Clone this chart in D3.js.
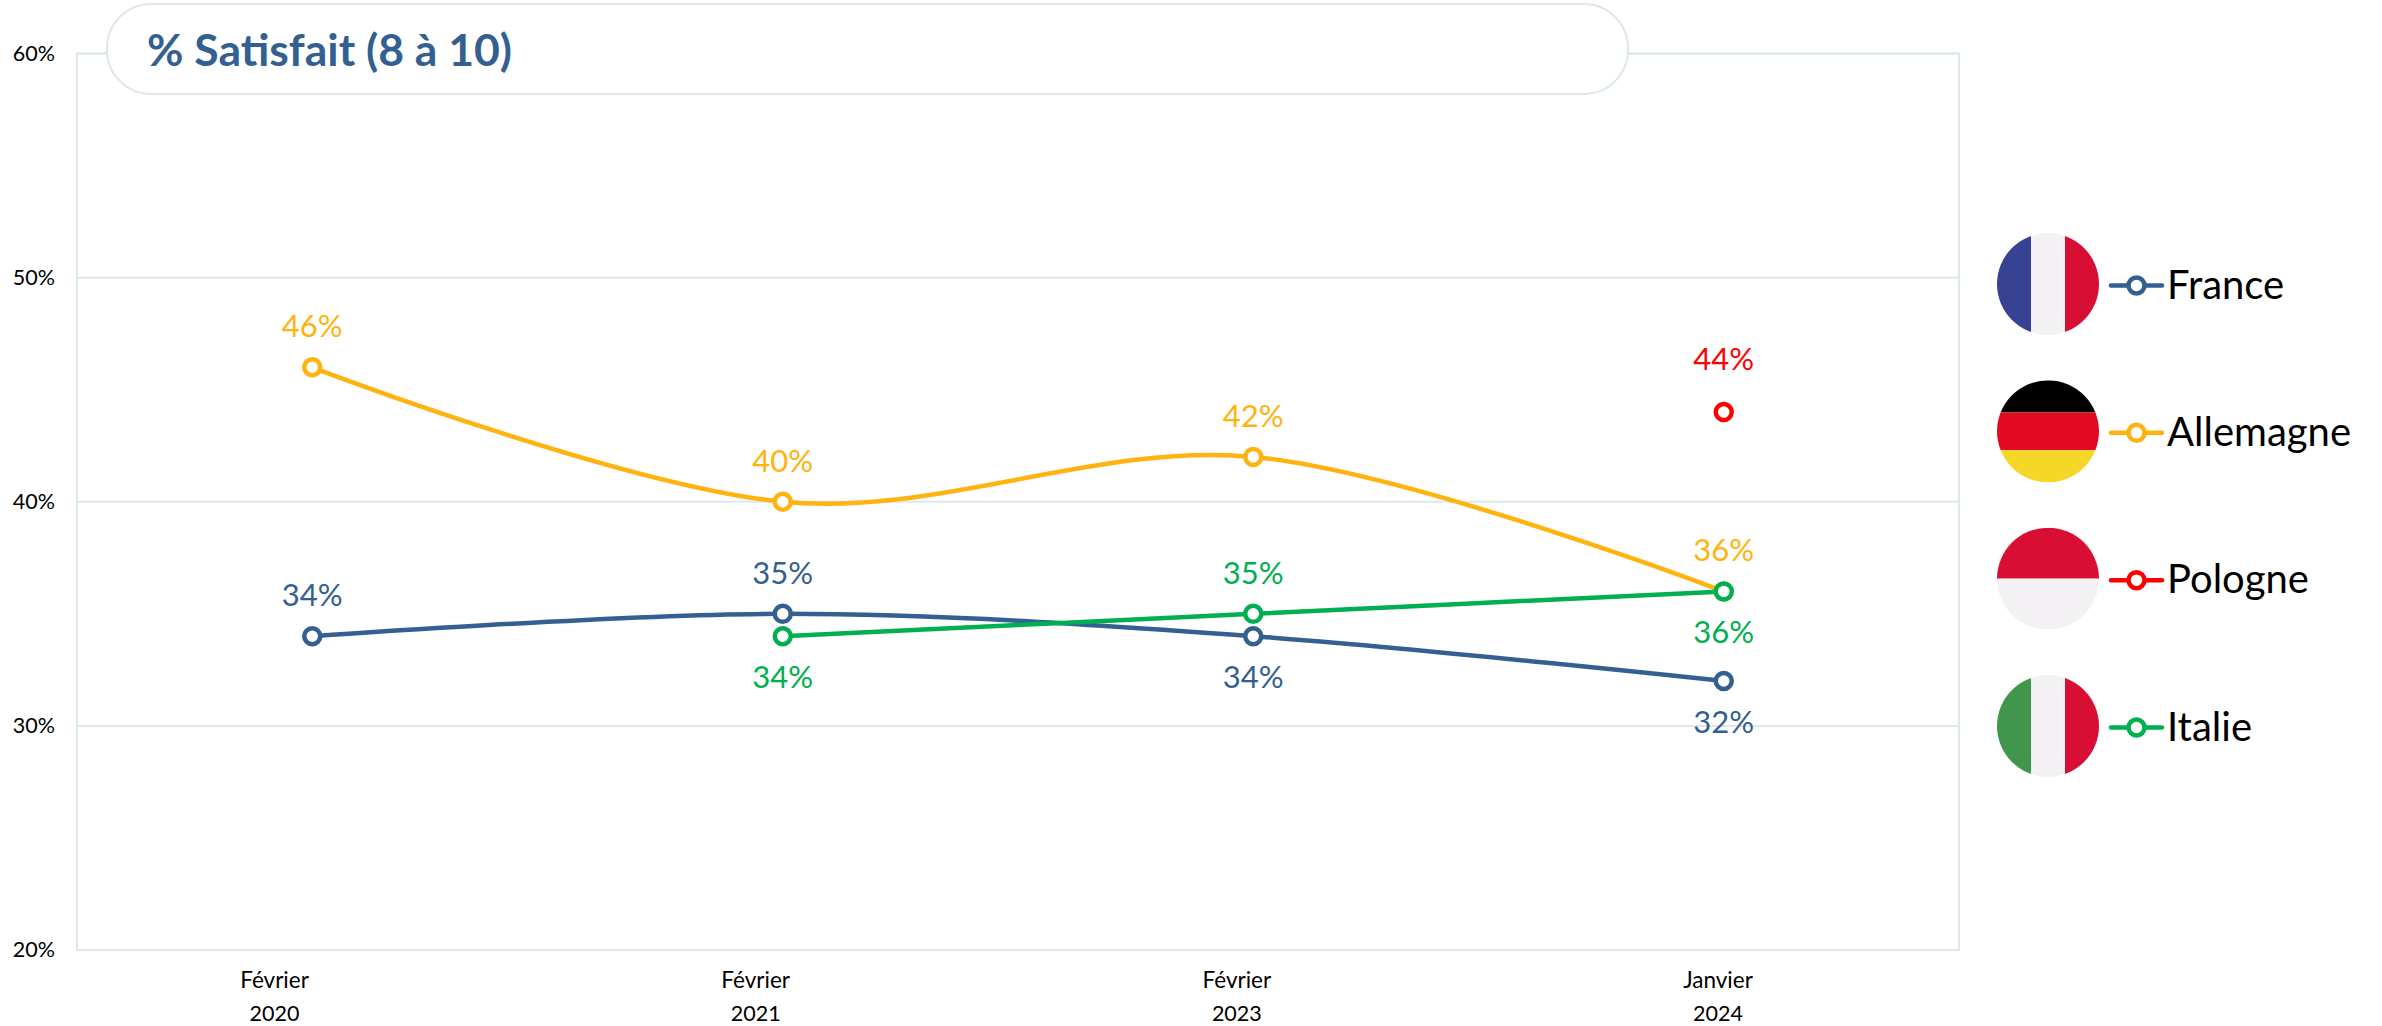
<!DOCTYPE html>
<html lang="fr">
<head>
<meta charset="utf-8">
<title>% Satisfait (8 à 10)</title>
<script src="https://cdn.jsdelivr.net/npm/d3@7"></script>
<style>
  html, body { margin: 0; padding: 0; background: #fff; }
  text { font-family: Lato, "Open Sans", sans-serif; }
</style>
</head>
<body>
<div id="chart"></div>
<script>
// data
const months = ["Février", "Février", "Février", "Janvier"];
const years = ["2020", "2021", "2023", "2024"];
const yTicks = [20, 30, 40, 50, 60];
const countries = ["France", "Allemagne", "Pologne", "Italie"];
const france = [34, 35, 34, 32];
const allemagne = [46, 40, 42, 36];
const pologne = [null, null, null, 44];
const italie = [null, 34, 35, 36];

// label offset from the point: negative = above, positive = below
const franceSide = [-41, -41, 41, 41];
const allemagneSide = [-41, -41, -41, -41];
const pologneSide = [0, 0, 0, -53];
const italieSide = [0, 41, -41, 41];

const colors = ["#335f91", "#ffb310", "#ff0000", "#00b050"];
const gridColor = "#dce8ec";

const width = 2382, height = 1026;
const plot = {left: 77, right: 1959, top: 53.5, bottom: 950};

const svg = d3.select("#chart")
  .append("svg")
    .attr("width", width)
    .attr("height", height)
    .style("display", "block");

const x = d3.scaleBand()
  .domain(d3.range(years.length))
  .range([plot.left, plot.right]);
const px = i => x(i) + x.bandwidth() / 2;

// the date labels sit a bit left of the points in the original
const xLabel = d3.scalePoint()
  .domain(d3.range(years.length))
  .range([274.5, 1718]);

const y = d3.scaleLinear()
  .domain([20, 60])
  .range([plot.bottom, plot.top]);

// Y axis + grid
const yAxis = svg.append("g")
  .attr("transform", `translate(${plot.left},0)`)
  .call(d3.axisLeft(y).tickValues(yTicks).tickFormat(d => d + "%").tickSize(0).tickPadding(22));
yAxis.select(".domain").remove();
yAxis.selectAll("text")
  .attr("font-size", 21.5)
  .attr("fill", "#000")
  .style("font-family", "Lato, sans-serif");

svg.append("g")
  .selectAll("line")
  .data(yTicks)
  .join("line")
    .attr("x1", plot.left)
    .attr("x2", plot.right)
    .attr("y1", d => y(d))
    .attr("y2", d => y(d))
    .attr("stroke", gridColor)
    .attr("stroke-width", 2);

svg.append("rect")
  .attr("x", plot.left)
  .attr("y", plot.top)
  .attr("width", plot.right - plot.left)
  .attr("height", plot.bottom - plot.top)
  .attr("fill", "none")
  .attr("stroke", gridColor)
  .attr("stroke-width", 2);

// date labels
const xLabels = svg.append("g")
  .selectAll("g")
  .data(years)
  .join("g")
    .attr("transform", (d, i) => `translate(${xLabel(i)},0)`)
    .attr("text-anchor", "middle")
    .attr("fill", "#000");
xLabels.append("text").attr("y", 988).attr("font-size", 22.5).text((d, i) => months[i]);
xLabels.append("text").attr("y", 1021).attr("font-size", 21.5).text(d => d);

// title box
svg.append("rect")
  .attr("x", 107)
  .attr("y", 4)
  .attr("width", 1521)
  .attr("height", 90)
  .attr("rx", 44)
  .attr("ry", 44)
  .attr("fill", "#fff")
  .attr("stroke", gridColor)
  .attr("stroke-width", 2);
svg.append("text")
  .attr("x", 147)
  .attr("y", 66)
  .attr("font-size", 44.5)
  .attr("font-weight", 700)
  .attr("fill", colors[0])
  .text("% Satisfait (8 à 10)");

// series
const seriesValues = [france, allemagne, pologne, italie];
const seriesSides = [franceSide, allemagneSide, pologneSide, italieSide];

const line = d3.line()
  .defined(d => d.v !== null)
  .x(d => px(d.i))
  .y(d => y(d.v))
  .curve(d3.curveCardinal.tension(0));

countries.forEach((name, s) => {
  const pts = seriesValues[s].map((v, i) => ({v, i, off: seriesSides[s][i]}));
  const g = svg.append("g").attr("class", "series");
  g.append("path")
    .attr("d", line(pts))
    .attr("fill", "none")
    .attr("stroke", colors[s])
    .attr("stroke-width", 4.5);
  g.selectAll("circle")
    .data(pts.filter(d => d.v !== null))
    .join("circle")
      .attr("cx", d => px(d.i))
      .attr("cy", d => y(d.v))
      .attr("r", 8)
      .attr("fill", "#fff")
      .attr("stroke", colors[s])
      .attr("stroke-width", 4.5);
});

// value labels go on top of everything
countries.forEach((name, s) => {
  const pts = seriesValues[s].map((v, i) => ({v, i, off: seriesSides[s][i]}));
  svg.append("g")
    .selectAll("text")
    .data(pts.filter(d => d.v !== null))
    .join("text")
      .attr("x", d => px(d.i))
      .attr("y", d => y(d.v) + d.off)
      .attr("dy", "0.35em")
      .attr("text-anchor", "middle")
      .attr("font-size", 31)
      .attr("fill", colors[s])
      .text(d => d.v + "%");
});

// legend with round flags
const flagWhite = "#f3f1f3", flagRed = "#d80e35";
const flags = [
  [["v", 0, 1 / 3, "#384293"], ["v", 1 / 3, 2 / 3, flagWhite], ["v", 2 / 3, 1, flagRed]],
  [["h", 0, 0.315, "#000000"], ["h", 0.315, 0.685, "#e20a20"], ["h", 0.685, 1, "#f6d727"]],
  [["h", 0, 0.5, flagRed], ["h", 0.5, 1, flagWhite]],
  [["v", 0, 1 / 3, "#40964a"], ["v", 1 / 3, 2 / 3, flagWhite], ["v", 2 / 3, 1, flagRed]]
];
const legendY = d3.scalePoint().domain(countries).range([284, 726]);
const flagR = 51;
const defs = svg.append("defs");

countries.forEach((name, s) => {
  const cy = legendY(name);
  const my = cy + 1.5;
  defs.append("clipPath")
    .attr("id", "flag" + s)
    .append("circle")
      .attr("cx", 2048)
      .attr("cy", cy)
      .attr("r", flagR);
  const g = svg.append("g").attr("clip-path", `url(#flag${s})`);
  flags[s].forEach(([dir, a, b, c]) => {
    if (dir === "v") {
      g.append("rect")
        .attr("x", 2048 - flagR + a * 2 * flagR)
        .attr("y", cy - flagR)
        .attr("width", (b - a) * 2 * flagR)
        .attr("height", 2 * flagR)
        .attr("fill", c);
    } else {
      g.append("rect")
        .attr("x", 2048 - flagR)
        .attr("y", cy - flagR + a * 2 * flagR)
        .attr("width", 2 * flagR)
        .attr("height", (b - a) * 2 * flagR)
        .attr("fill", c);
    }
  });
  svg.append("line")
    .attr("x1", 2111)
    .attr("x2", 2162)
    .attr("y1", my)
    .attr("y2", my)
    .attr("stroke", colors[s])
    .attr("stroke-width", 4.5)
    .attr("stroke-linecap", "round");
  svg.append("circle")
    .attr("cx", 2136.5)
    .attr("cy", my)
    .attr("r", 8)
    .attr("fill", "#fff")
    .attr("stroke", colors[s])
    .attr("stroke-width", 4.5);
  svg.append("text")
    .attr("x", 2167)
    .attr("y", my - 1)
    .attr("dy", "0.35em")
    .attr("font-size", 40)
    .attr("fill", "#000")
    .text(name);
});
</script>
</body>
</html>
